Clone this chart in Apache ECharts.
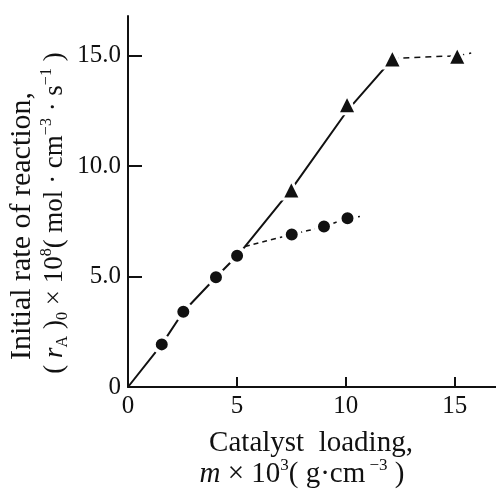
<!DOCTYPE html>
<html>
<head>
<meta charset="utf-8">
<script src="https://cdn.jsdelivr.net/npm/echarts@6/dist/echarts.min.js"></script>
<style>
  html, body { margin: 0; background: #fff; }
  #chart { width: 496px; height: 489px; }
</style>
</head>
<body>
<div id="chart"></div>
<script>
// catalyst loading m x 10^3 (g/cm3) and initial rate x 10^8
const circleLoading = [1.55, 2.54, 4.04, 5.01, 7.52, 9.0, 10.08];
const circleRate = [1.93, 3.41, 4.97, 5.94, 6.91, 7.27, 7.64];
const triangleLoading = [7.5, 10.06, 12.14, 15.12];
const triangleRate = [8.94, 12.8, 14.88, 15.0];

// hand-drawn curves
const mainLineX = [0, 1.55, 2.54, 4.04, 5.01, 5.37, 7.5, 10.06, 12.14];
const mainLineY = [0, 1.93, 3.41, 4.97, 5.94, 6.36, 8.95, 12.5, 14.85];
const lowBranchX = [5.37, 7.52, 9.0, 10.08, 10.65];
const lowBranchY = [6.36, 6.91, 7.27, 7.64, 7.72];
const highBranchX = [12.14, 15.12, 15.76];
const highBranchY = [14.88, 15.0, 15.12];

const xTicks = [0, 5, 10, 15];
const xTickLabels = ["0", "5", "10", "15"];
const yTicks = [0, 5, 10, 15];
const yTickLabels = ["0", "5.0", "10.0", "15.0"];

const pairs = (xs, ys) => xs.map((x, i) => [x, ys[i]]);

const ink = "#111";
const serif = "Liberation Serif";

const chart = echarts.init(document.getElementById("chart"));

function richStyles(size, small) {
  return {
    it: { fontSize: size, fontFamily: serif, fontStyle: "italic", fill: ink },
    sup: { fontSize: small, fontFamily: serif, verticalAlign: "top", lineHeight: small, fill: ink },
    sub: { fontSize: small, fontFamily: serif, verticalAlign: "bottom", lineHeight: small, fill: ink },
  };
}

chart.setOption({
  animation: false,
  backgroundColor: "#fff",
  grid: { left: 128, right: 0, top: 16, bottom: 102, outerBoundsMode: "none" },
  xAxis: {
    type: "value",
    min: 0,
    max: 16.9,
    axisLine: { onZero: false, lineStyle: { color: ink, width: 2 } },
    axisTick: { inside: true, length: 10, lineStyle: { color: ink, width: 2 }, customValues: xTicks.slice(1) },
    axisLabel: {
      customValues: xTicks,
      formatter: (v) => xTickLabels[xTicks.indexOf(v)],
      color: ink,
      fontFamily: serif,
      fontSize: 25,
      margin: 7,
    },
    splitLine: { show: false },
  },
  yAxis: {
    type: "value",
    min: 0,
    max: 16.8,
    axisLine: { show: true, onZero: false, lineStyle: { color: ink, width: 2 } },
    axisTick: { show: true, inside: true, length: 14, lineStyle: { color: ink, width: 2 }, customValues: yTicks.slice(1) },
    axisLabel: {
      customValues: yTicks,
      formatter: (v) => yTickLabels[yTicks.indexOf(v)],
      color: ink,
      fontFamily: serif,
      fontSize: 25,
      margin: 7,
    },
    splitLine: { show: false },
  },
  graphic: {
    elements: [
      {
        type: "text",
        x: 22,
        y: 226,
        rotation: Math.PI / 2,
        style: {
          text: "Initial rate of reaction,",
          fontSize: 30,
          fontFamily: serif,
          fill: ink,
          align: "center",
          verticalAlign: "middle",
        },
      },
      {
        type: "text",
        x: 55,
        y: 213,
        rotation: Math.PI / 2,
        style: {
          text: "( {it|r}{sub|A} ){sub|0} × 10{sup|8}( mol · cm{sup|−3} · s{sup|−1} )",
          fontSize: 27,
          fontFamily: serif,
          lineHeight: 32,
          fill: ink,
          align: "center",
          verticalAlign: "middle",
          rich: richStyles(27, 16),
        },
      },
      {
        type: "text",
        x: 311,
        y: 443,
        style: {
          text: "Catalyst  loading,",
          fontSize: 29,
          fontFamily: serif,
          fill: ink,
          align: "center",
          verticalAlign: "middle",
        },
      },
      {
        type: "text",
        x: 302,
        y: 474,
        style: {
          text: "{it|m} × 10{sup|3}( g·cm{sup| −3} )",
          fontSize: 29,
          fontFamily: serif,
          lineHeight: 34,
          fill: ink,
          align: "center",
          verticalAlign: "middle",
          rich: richStyles(29, 17),
        },
      },
    ],
  },
  series: [
    {
      type: "line",
      data: pairs(mainLineX, mainLineY),
      symbol: "none",
      lineStyle: { color: ink, width: 2 },
      z: 2,
    },
    {
      type: "line",
      data: pairs(lowBranchX, lowBranchY),
      symbol: "none",
      smooth: 0.4,
      lineStyle: { color: ink, width: 1.5, type: [5, 4] },
      z: 2,
    },
    {
      type: "line",
      data: pairs(highBranchX, highBranchY),
      symbol: "none",
      lineStyle: { color: ink, width: 1.5, type: [6, 5] },
      z: 2,
    },
    {
      type: "scatter",
      data: pairs(circleLoading, circleRate),
      symbol: "circle",
      symbolSize: 16,
      itemStyle: { color: ink, borderColor: "#fff", borderWidth: 4, opacity: 1 },
      z: 5,
    },
    {
      type: "scatter",
      data: pairs(triangleLoading, triangleRate),
      symbol: "triangle",
      symbolSize: 19,
      itemStyle: { color: ink, borderColor: "#fff", borderWidth: 3, opacity: 1 },
      z: 5,
    },
  ],
});
</script>
</body>
</html>
